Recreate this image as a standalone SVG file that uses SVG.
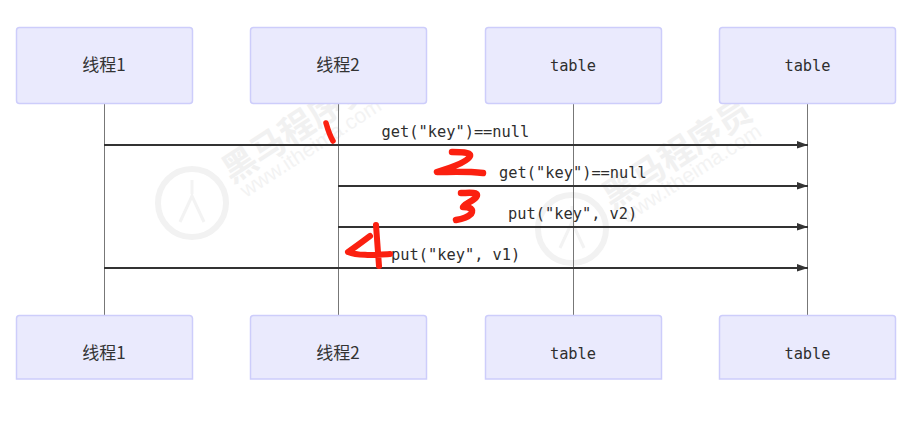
<svg xmlns="http://www.w3.org/2000/svg" width="920" height="425" viewBox="0 0 920 425">
<style>
.box{fill:#eaeafd;stroke:#cdcdfb;stroke-width:1.5}
.life{stroke:#777;stroke-width:1;fill:none}
.msg{stroke:#333;stroke-width:2.200;fill:none;marker-end:url(#arrow)}
.cjk{font-family:"Noto Sans CJK SC","Noto Sans",sans-serif;font-size:17px;fill:#333;text-anchor:middle}
.mono{font-family:"DejaVu Sans Mono","Liberation Mono",monospace;font-size:15.350px;fill:#2e2e2e}
.nm{text-anchor:middle}
.wm{font-family:"Noto Sans CJK SC",sans-serif;font-weight:700;font-size:34px;fill:#f1f1f1}
.wu{font-family:"Liberation Sans",sans-serif;font-size:21px;fill:#f3f3f3}
.ink{fill:none;stroke:#fb2010;stroke-linecap:round;stroke-linejoin:round}
</style>
<defs>
<marker id="arrow" markerUnits="userSpaceOnUse" markerWidth="12" markerHeight="8" refX="11" refY="4" orient="auto"><path d="M0 0L11 4L0 7.500z" fill="#333"/></marker>
<g id="mark">
<circle cx="192" cy="203" r="34" fill="none" stroke="#f2f2f2" stroke-width="6"/>
<path d="M180 222l12-26 12 26M192 180v14" fill="none" stroke="#f3f3f3" stroke-width="3"/>
<text class="wm" transform="translate(232 184) rotate(-33)">黑马程序员</text>
<text class="wu" transform="translate(246 198) rotate(-33)">www.itheima.com</text>
</g>
</defs>
<rect width="920" height="425" fill="#fff"/>
<g id="watermark"><use href="#mark"/><use href="#mark" x="380" y="26"/></g>
<g id="connectors">
<line class="life" x1="104.500" y1="104" x2="104.500" y2="315"/>
<line class="life" x1="338.500" y1="104" x2="338.500" y2="315"/>
<line class="life" x1="573.500" y1="104" x2="573.500" y2="315"/>
<line class="life" x1="807.500" y1="104" x2="807.500" y2="315"/>
<line class="msg" x1="104" y1="145" x2="808" y2="145"/>
<line class="msg" x1="338" y1="186" x2="808" y2="186"/>
<line class="msg" x1="338" y1="227" x2="808" y2="227"/>
<line class="msg" x1="104" y1="268" x2="808" y2="268"/>
</g>
<g id="labels">
<text class="mono" x="381.500" y="137">get("key")==null</text>
<text class="mono" x="499" y="178">get("key")==null</text>
<text class="mono" x="508" y="219">put("key", v2)</text>
<text class="mono" x="391" y="260">put("key", v1)</text>
</g>
<g id="ink">
<path class="ink" stroke-width="5.500" d="M326 123C328 130 330 136 333 141"/>
<path class="ink" stroke-width="6.500" d="M452 152C460 152 471 152 470 156C468 162 450 168 437 172C450 172 466 171 483 173"/>
<path class="ink" stroke-width="6.500" d="M461 193C468 193 477 192 477 195C477 200 463 204 463 207C470 207 474 209 471 214C467 218 462 219 456 220"/>
<path class="ink" stroke-width="6" d="M370 236C362 242 354 248 348 252C358 256 372 255 390 254M376 225L379 266"/>
</g>
<g id="top1"><rect class="box" x="16.500" y="27.500" width="176" height="76" rx="3"/><text class="cjk" x="104" y="71">线程1</text></g>
<g id="top2"><rect class="box" x="250.500" y="27.500" width="176" height="76" rx="3"/><text class="cjk" x="338" y="71">线程2</text></g>
<g id="top3"><rect class="box" x="485.500" y="27.500" width="176" height="76" rx="3"/><text class="mono nm" x="573" y="71">table</text></g>
<g id="top4"><rect class="box" x="719.500" y="27.500" width="176" height="76" rx="3"/><text class="mono nm" x="807.500" y="71">table</text></g>
<g id="bottom1"><path class="box" d="M16.500 379V318.500a3 3 0 0 1 3-3h170a3 3 0 0 1 3 3V379z"/><text class="cjk" x="104" y="359">线程1</text></g>
<g id="bottom2"><path class="box" d="M250.500 379V318.500a3 3 0 0 1 3-3h170a3 3 0 0 1 3 3V379z"/><text class="cjk" x="338" y="359">线程2</text></g>
<g id="bottom3"><path class="box" d="M485.500 379V318.500a3 3 0 0 1 3-3h170a3 3 0 0 1 3 3V379z"/><text class="mono nm" x="573" y="359">table</text></g>
<g id="bottom4"><path class="box" d="M719.500 379V318.500a3 3 0 0 1 3-3h170a3 3 0 0 1 3 3V379z"/><text class="mono nm" x="807.500" y="359">table</text></g>
</svg>
